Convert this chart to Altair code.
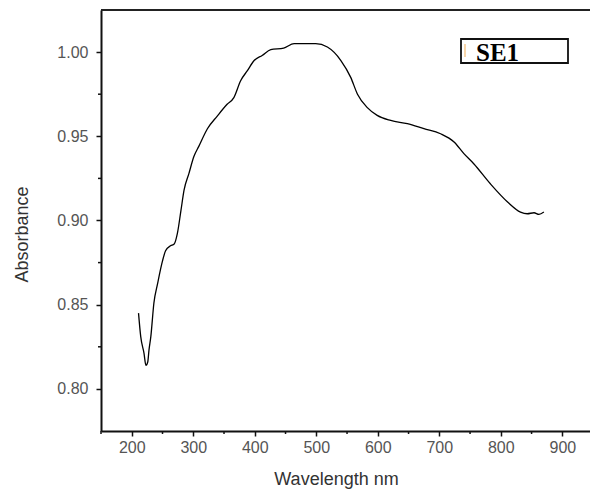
import altair as alt
import pandas as pd

wavelength = [211, 214.6, 220, 223, 226, 228, 231, 236, 242, 250, 255, 263, 269, 274, 280,
              285, 293, 301, 309, 323, 339, 355, 366, 377, 388, 399, 412, 426, 447, 464,
              499, 518, 540, 556, 567, 583, 599, 621, 648, 675, 702, 724, 740, 756, 783,
              811, 832, 843, 854, 862, 870]
absorbance = [0.845, 0.831, 0.821, 0.814, 0.816, 0.823, 0.831, 0.851, 0.8625, 0.876, 0.882,
              0.885, 0.886, 0.892, 0.906, 0.918, 0.928, 0.938, 0.944, 0.9545, 0.962, 0.969,
              0.973, 0.983, 0.989, 0.995, 0.998, 1.0014, 1.0024, 1.005, 1.005, 1.003, 0.995,
              0.985, 0.975, 0.967, 0.9624, 0.9594, 0.9575, 0.9545, 0.9515, 0.9466, 0.9397,
              0.9337, 0.9218, 0.911, 0.905, 0.904, 0.9046, 0.9036, 0.905]

x_major = [200, 300, 400, 500, 600, 700, 800, 900]
x_minor = [150, 250, 350, 450, 550, 650, 750, 850]
y_major = [0.80, 0.85, 0.90, 0.95, 1.00]
y_minor = [0.825, 0.875, 0.925, 0.975]
legend_label = ["SE1"]

W, H = 489, 421
x_dom = [150, 945]
y_dom = [0.775, 1.025]

df = pd.DataFrame({"wl": wavelength, "ab": absorbance})
xs = alt.Scale(domain=x_dom, nice=False, zero=False)
ys = alt.Scale(domain=y_dom, nice=False, zero=False)

line = alt.Chart(df).mark_line(color="black", strokeWidth=1.3, interpolate="monotone").encode(
    x=alt.X("wl:Q", scale=xs, title="Wavelength nm",
            axis=alt.Axis(values=x_major, format="d", grid=False, tickSize=5,
                          tickWidth=1.5, tickColor="#111", domainColor="#111",
                          domainWidth=2, labelFont="Liberation Sans", labelFontSize=16,
                          labelColor="#555", labelPadding=3,
                          titleFont="Liberation Sans", titleFontSize=18,
                          titleFontWeight="normal", titleColor="#333",
                          titleX=235, titleY=53, titleBaseline="alphabetic")),
    y=alt.Y("ab:Q", scale=ys, title="Absorbance",
            axis=alt.Axis(values=y_major, format=".2f", grid=False, tickSize=5,
                          tickWidth=1.5, tickColor="#111", domainColor="#111",
                          domainWidth=2, labelFont="Liberation Sans", labelFontSize=16,
                          labelColor="#555", labelPadding=8,
                          titleFont="Liberation Sans", titleFontSize=18,
                          titleFontWeight="normal", titleColor="#333",
                          titleX=-74, titleY=224, titleBaseline="alphabetic")),
)

xminor_df = pd.DataFrame({"v": x_minor})
xminor = alt.Chart(xminor_df).mark_rule(color="#111", strokeWidth=1.5).encode(
    x=alt.X("v:Q", scale=xs), y=alt.value(H), y2=alt.value(H + 3))

yminor_df = pd.DataFrame({"v": y_minor})
yminor = alt.Chart(yminor_df).mark_rule(color="#111", strokeWidth=1.5).encode(
    y=alt.Y("v:Q", scale=ys), x=alt.value(0), x2=alt.value(-3))

top = alt.Chart(pd.DataFrame({"a": [0]})).mark_rule(color="#222", strokeWidth=2).encode(
    x=alt.value(0), x2=alt.value(W), y=alt.value(0))

box = alt.Chart(pd.DataFrame({"a": [0]})).mark_rect(
    fill="white", stroke="#111", strokeWidth=1.8).encode(
    x=alt.value(360), x2=alt.value(467), y=alt.value(29), y2=alt.value(53))

swatch = alt.Chart(pd.DataFrame({"a": [0]})).mark_rule(
    color="#f6c98e", strokeWidth=1.5).encode(
    x=alt.value(364), y=alt.value(34), y2=alt.value(47))

label = alt.Chart(pd.DataFrame({"t": legend_label})).mark_text(
    font="Liberation Serif", fontWeight="bold", fontSize=25, color="black",
    align="left", baseline="alphabetic").encode(
    text="t:N", x=alt.value(375), y=alt.value(51))

chart = alt.layer(line, xminor, yminor, top, box, swatch, label).properties(
    width=W, height=H,
    autosize=alt.AutoSizeParams(type="none"),
    padding={"left": 101, "top": 10, "right": 0, "bottom": 61},
    background="white",
).configure_view(stroke=None)

chart.save("out.html", embed_options={"renderer": "svg", "actions": False})
